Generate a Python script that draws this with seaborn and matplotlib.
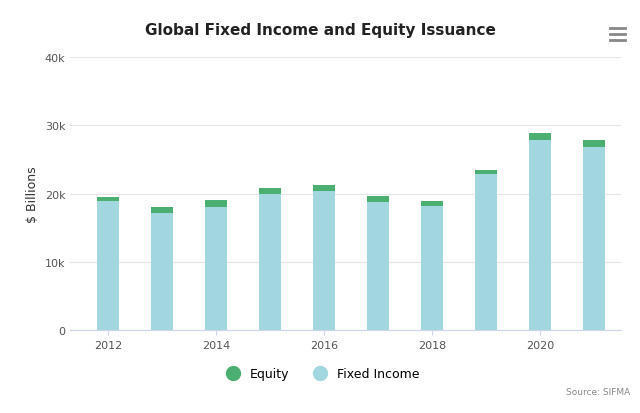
import matplotlib
matplotlib.use("Agg")
import matplotlib.pyplot as plt
import seaborn as sns
import pandas as pd
from matplotlib.lines import Line2D

years = [2012, 2013, 2014, 2015, 2016, 2017, 2018, 2019, 2020, 2021]
fixed_income = [18900, 17200, 18100, 20000, 20400, 18700, 18200, 22800, 27800, 26800]
equity = [650, 900, 900, 850, 900, 950, 750, 700, 1000, 1100]

df = pd.DataFrame({"year": [str(y) for y in years], "fixed": fixed_income,
                   "total": [f + e for f, e in zip(fixed_income, equity)]})

fig = plt.figure(figsize=(6.4, 4.14), dpi=100)
ax = fig.add_axes([0.11, 0.2, 0.86, 0.66])
sns.barplot(data=df, x="year", y="total", color="#4caf72", width=0.4, ax=ax, saturation=1)
sns.barplot(data=df, x="year", y="fixed", color="#a2d7df", width=0.4, ax=ax, saturation=1)
ax.set_ylim(0, 40000)
ax.set_yticks([0, 10000, 20000, 30000, 40000])
ax.set_yticklabels(["0", "10k", "20k", "30k", "40k"], color="#555", fontsize=8)
ax.set_xticks(range(0, 10, 2))
ax.set_xticklabels([str(y) for y in years[::2]], color="#555", fontsize=8)
ax.set_xlim(-0.7, 9.5)
ax.grid(axis="y", color="#e6e6e6", lw=0.8)
ax.set_axisbelow(True)
for s in ["top", "right", "left"]:
    ax.spines[s].set_visible(False)
ax.spines["bottom"].set_color("#ccd6eb")
ax.tick_params(axis="y", length=0)
ax.tick_params(axis="x", color="#ccd6eb")
ax.set_xlabel("")
ax.set_ylabel("$ Billions", fontsize=9, color="#333")
fig.text(0.5, 0.915, "Global Fixed Income and Equity Issuance", ha="center",
         fontsize=11, fontweight="bold", color="#222")
handles = [Line2D([], [], marker="o", ls="", color="#4caf72", markersize=10, label="Equity"),
           Line2D([], [], marker="o", ls="", color="#a2d7df", markersize=10, label="Fixed Income")]
fig.legend(handles=handles, loc="center", bbox_to_anchor=(0.5, 0.095), ncol=2,
           frameon=False, fontsize=9, handletextpad=0.3, columnspacing=1.5)
fig.text(0.985, 0.045, "Source: SIFMA", ha="right", fontsize=6.5, color="#888")
for dy in (0.905, 0.92, 0.935):
    fig.add_artist(Line2D([0.953, 0.976], [dy - 0.005, dy - 0.005], color="#888", lw=2))
fig.savefig("out.png")
